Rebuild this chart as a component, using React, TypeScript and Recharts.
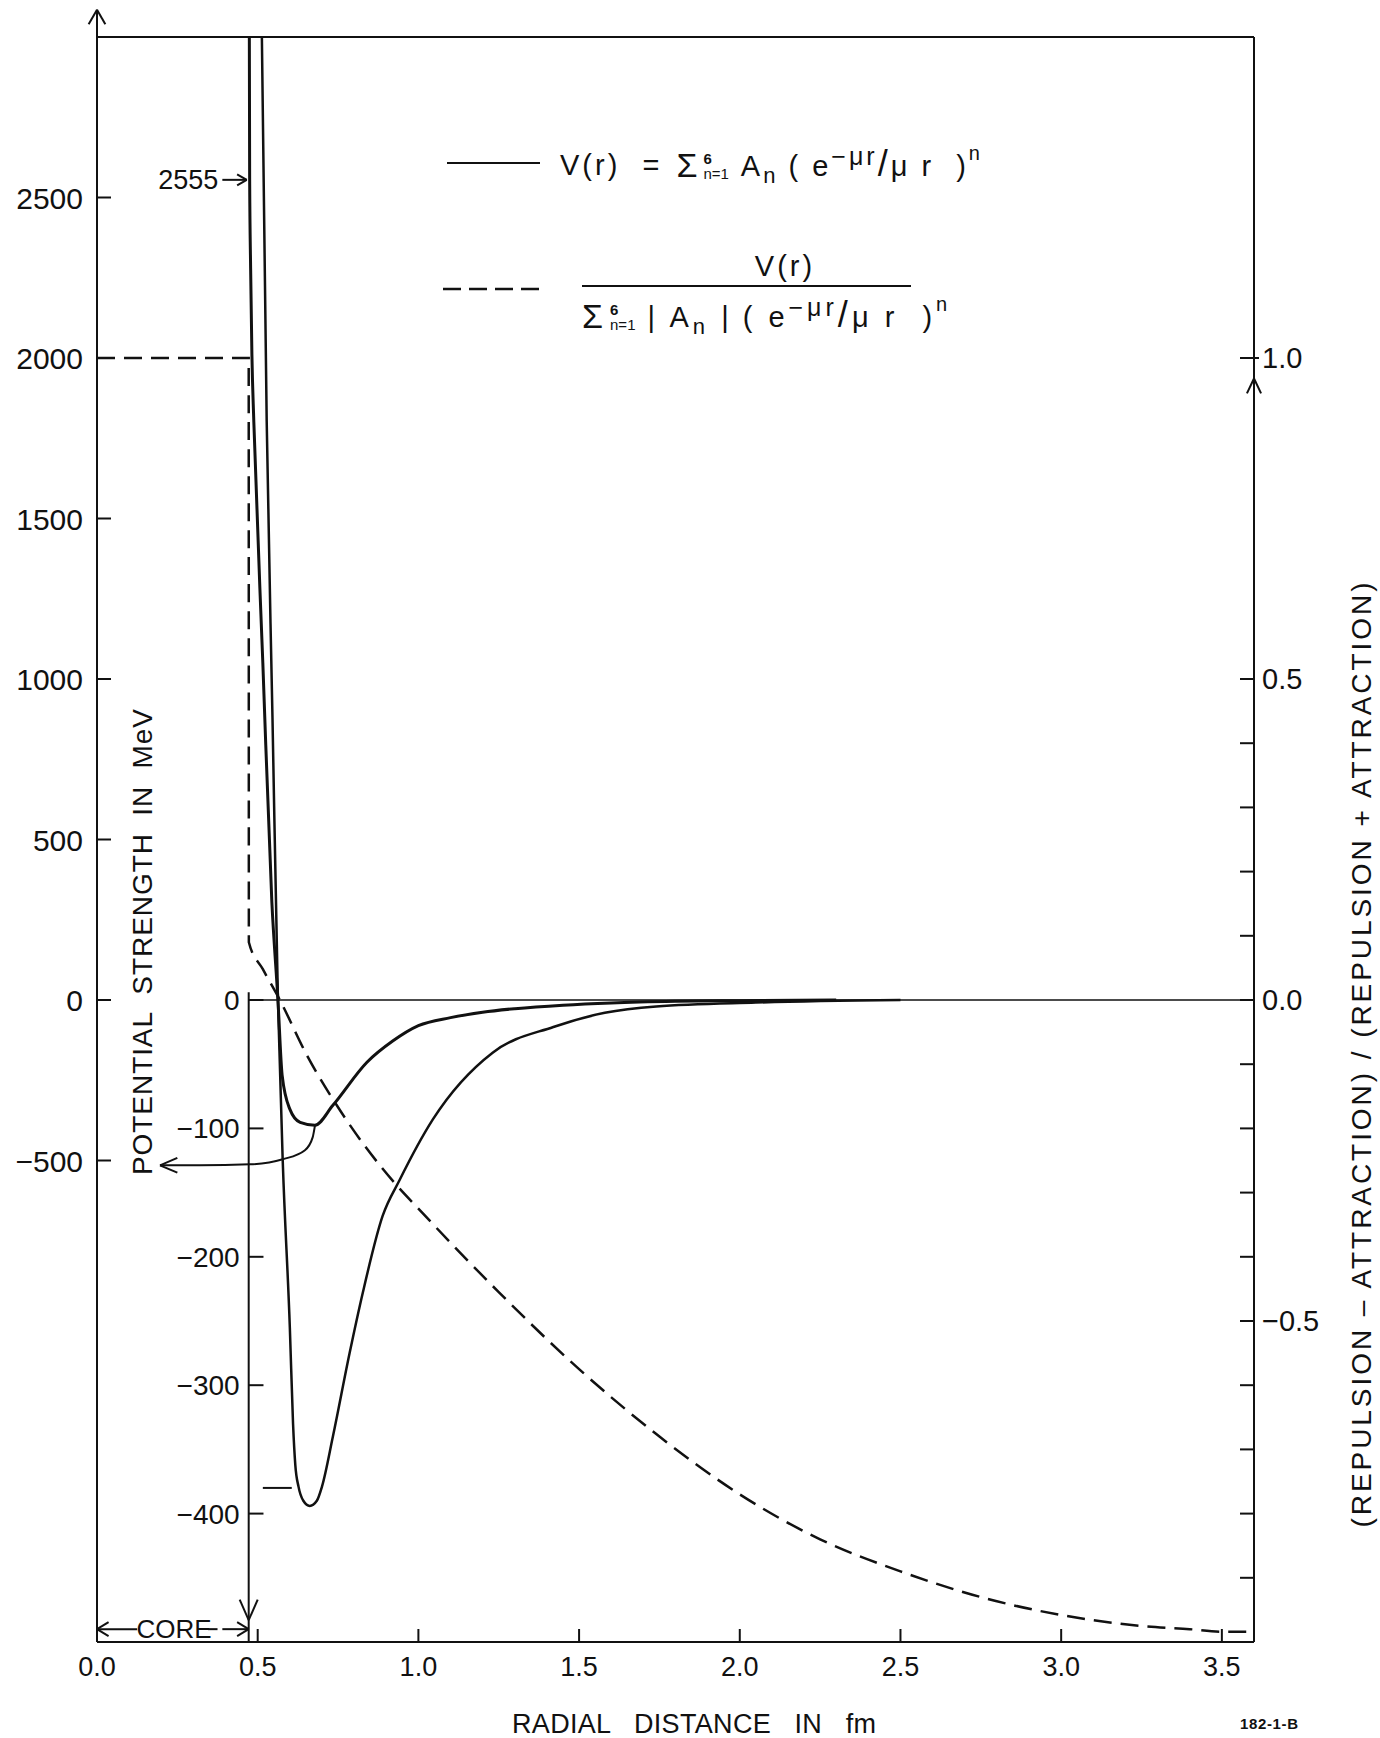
import React from 'react';
import { ComposedChart, Line, XAxis, YAxis, ReferenceLine } from 'recharts';

const FONT = '"Liberation Sans", Arial, sans-serif';
const INK = '#111';

// V(r) in MeV against the outer left scale (r in fm)
const outerR = [0.474, 0.475, 0.478, 0.482, 0.488, 0.516, 0.544, 0.563, 0.576, 0.6, 0.632, 0.678, 0.734, 0.84, 0.92, 1.0, 1.1, 1.2, 1.3, 1.45, 1.6, 1.8, 2.0, 2.3];
const outerV = [3000, 2555, 2280, 2010, 1800, 1050, 306, 0, -234, -340, -381, -390, -328, -194, -128, -80, -55, -38, -27, -16, -9, -4, -2, 0];

// same potential against the magnified inner scale (0 .. -400)
const innerR = [0.513, 0.528, 0.546, 0.563, 0.578, 0.6, 0.61, 0.617, 0.627, 0.642, 0.662, 0.684, 0.7, 0.734, 0.786, 0.827, 0.889, 0.942, 1.045, 1.231, 1.42, 1.58, 1.74, 2.05, 2.5];
const innerV = [750, 451, 220, 0, -126, -255, -330, -362, -379, -390, -394, -390, -379, -340, -275, -228, -168, -140, -93, -41, -21, -10, -5, -2, 0];

// (repulsion - attraction) / (repulsion + attraction), right scale
const ratioR = [0, 0.472, 0.4725, 0.516, 0.569, 0.653, 0.746, 0.933, 1.0, 1.25, 1.5, 1.75, 2.0, 2.25, 2.5, 2.75, 3.0, 3.25, 3.4, 3.5, 3.6];
const ratioV = [1.0, 1.0, 0.09, 0.048, 0, -0.086, -0.164, -0.289, -0.325, -0.455, -0.575, -0.68, -0.77, -0.84, -0.89, -0.93, -0.958, -0.975, -0.98, -0.984, -0.984];

// leader from the shallow minimum to the -500 label
const leaderR = [0.196, 0.32, 0.476, 0.578, 0.647, 0.671, 0.678];
const leaderV = [-515, -515, -512, -496, -468, -428, -392];

const xTicks = [0, 0.5, 1, 1.5, 2, 2.5, 3, 3.5];
const leftTicks = [-500, 0, 500, 1000, 1500, 2000, 2500];
const rightTicks = [1, 0.5, 0.4, 0.3, 0.2, 0.1, 0, -0.1, -0.2, -0.3, -0.4, -0.5, -0.6, -0.7, -0.8, -0.9];
const rightLabels = [1, 0.5, 0, -0.5];
const innerTicks = [0, -100, -200, -300, -400];
const CORE_R = 0.472;

const pts = (rs: number[], vs: number[]) => rs.map((r, i) => ({ r, v: vs[i] }));

const fmt = (v: number, d: number) => (v < 0 ? '−' : '') + Math.abs(v).toFixed(d);

function LeftTick(props: any) {
  const { x, y, payload } = props;
  return (
    <g>
      <line x1={x} x2={x + 14} y1={y} y2={y} stroke={INK} strokeWidth={2} />
      <text x={x - 14} y={y} dy={11} textAnchor="end" fontSize={30} fontFamily={FONT} fill={INK}>
        {fmt(payload.value, 0)}
      </text>
    </g>
  );
}

function RightTick(props: any) {
  const { x, y, payload } = props;
  const v = payload.value;
  return (
    <g>
      <line x1={x - 14} x2={v === 1 ? x + 5 : x} y1={y} y2={y} stroke={INK} strokeWidth={2} />
      {rightLabels.includes(v) && (
        <text x={x + 8} y={y} dy={10} fontSize={29} fontFamily={FONT} fill={INK}>
          {fmt(v, 1)}
        </text>
      )}
    </g>
  );
}

function BottomTick(props: any) {
  const { x, y, payload } = props;
  return (
    <g>
      <line x1={x} x2={x} y1={y} y2={y - 13} stroke={INK} strokeWidth={2} />
      <text x={x} y={y + 34} textAnchor="middle" fontSize={27} fontFamily={FONT} fill={INK}>
        {payload.value.toFixed(1)}
      </text>
    </g>
  );
}

function seg(key: string, axis: string, x1: number, y1: number, x2: number, y2: number, extra: any = {}) {
  return (
    <ReferenceLine
      key={key}
      yAxisId={axis}
      segment={[{ x: x1, y: y1 }, { x: x2, y: y2 }]}
      stroke={INK}
      strokeWidth={2}
      ifOverflow="visible"
      {...extra}
    />
  );
}

const lbl = (value: string, position: string, offset = 9, size = 28) => ({
  value,
  position,
  offset,
  fontSize: size,
  fill: INK,
  fontFamily: FONT,
});

function SumTerm({ abs, gap = 2 }: { abs?: boolean; gap?: number }) {
  return (
    <span style={{ display: 'inline-flex', alignItems: 'center', whiteSpace: 'pre', letterSpacing: gap }}>
      <span style={{ fontSize: 34 }}>Σ</span>
      <span
        style={{
          display: 'inline-flex',
          flexDirection: 'column',
          fontSize: 15,
          lineHeight: '15px',
          marginLeft: 3,
          marginRight: 12,
          letterSpacing: 0,
        }}
      >
        <span style={{ fontWeight: 700 }}>6</span>
        <span>n=1</span>
      </span>
      <span>
        {abs ? '| ' : ''}A<sub style={{ fontSize: 22, verticalAlign: -7 }}>n</sub>
        {abs ? ' |' : ''}
        <span style={{ marginLeft: 10 }}>( e</span>
        <sup style={{ fontSize: 25, verticalAlign: 11 }}>−μr</sup>
        <span style={{ fontSize: 36 }}>/</span>
        <span>μ r  )</span>
        <sup style={{ fontSize: 20, verticalAlign: 16 }}>n</sup>
      </span>
    </span>
  );
}

export default function App() {
  const segs = [
    // frame top and axis arrows
    seg('top', 'left', 0, 3000, 3.6, 3000),
    seg('la', 'left', 0, 3000, 0, 3085),
    seg('la1', 'left', 0, 3085, -0.026, 3040),
    seg('la2', 'left', 0, 3085, 0.026, 3040),
    seg('ra1', 'right', 3.6, 0.968, 3.578, 0.945),
    seg('ra2', 'right', 3.6, 0.968, 3.622, 0.945),
    // zero line
    seg('zero', 'left', CORE_R, 0, 3.6, 0, { strokeWidth: 1.5 }),
    // 2555 pointer
    seg('p2555', 'left', 0.39, 2555, 0.466, 2555, { label: lbl('2555', 'left', 4, 27) }),
    seg('p2555a', 'left', 0.466, 2555, 0.436, 2572),
    seg('p2555b', 'left', 0.466, 2555, 0.436, 2538),
    // leader arrow head
    seg('lda', 'left', 0.196, -515, 0.25, -492),
    seg('ldb', 'left', 0.196, -515, 0.25, -538),
    // inner (core) axis
    seg('core', 'inner', CORE_R, 6, CORE_R, -500),
    seg('corea', 'inner', CORE_R, -483, CORE_R - 0.028, -467),
    seg('coreb', 'inner', CORE_R, -483, CORE_R + 0.028, -467),
    ...innerTicks.map((v) =>
      seg('it' + v, 'inner', CORE_R, v, CORE_R + 0.046, v, { label: lbl(fmt(v, 0), 'left', 9) })
    ),
    seg('mark380', 'inner', 0.516, -380, 0.606, -380),
    // CORE dimension
    seg('cd1', 'inner', 0, -490, 0.125, -490),
    seg('cd2', 'inner', 0.345, -490, 0.375, -490),
    seg('cd3', 'inner', 0.39, -490, CORE_R, -490),
    seg('cdl1', 'inner', 0, -490, 0.036, -484.5),
    seg('cdl2', 'inner', 0, -490, 0.036, -495.5),
    seg('cdr1', 'inner', CORE_R, -490, CORE_R - 0.036, -484.5),
    seg('cdr2', 'inner', CORE_R, -490, CORE_R - 0.036, -495.5),
    seg('cdt', 'inner', 0.14, -490, 0.34, -490, { stroke: 'none', label: lbl('CORE', 'center', 0, 26) }),
  ];

  return (
    <div
      style={{
        position: 'absolute',
        left: 0,
        top: 0,
        width: 1380,
        height: 1738,
        background: '#fff',
        fontFamily: FONT,
        color: INK,
      }}
    >
      <ComposedChart width={1380} height={1738} margin={{ top: 37, right: 46, bottom: 46, left: 7 }}>
        <XAxis
          type="number"
          dataKey="r"
          domain={[0, 3.6]}
          ticks={xTicks}
          interval={0}
          allowDataOverflow
          height={50}
          tickSize={0}
          tickMargin={0}
          tickLine={false}
          axisLine={{ stroke: INK, strokeWidth: 2 }}
          tick={<BottomTick />}
        />
        <YAxis
          yAxisId="left"
          type="number"
          domain={[-2000, 3000]}
          ticks={leftTicks}
          interval={0}
          allowDataOverflow
          width={90}
          tickSize={0}
          tickMargin={0}
          tickLine={false}
          axisLine={{ stroke: INK, strokeWidth: 2 }}
          tick={<LeftTick />}
        />
        <YAxis
          yAxisId="right"
          orientation="right"
          type="number"
          domain={[-1, 1.5]}
          ticks={rightTicks}
          interval={0}
          allowDataOverflow
          width={80}
          tickSize={0}
          tickMargin={0}
          tickLine={false}
          axisLine={{ stroke: INK, strokeWidth: 2 }}
          tick={<RightTick />}
        />
        <YAxis yAxisId="inner" type="number" domain={[-500, 750]} allowDataOverflow hide width={0} />

        {segs}

        <Line
          data={pts(outerR, outerV)}
          yAxisId="left"
          dataKey="v"
          type="monotone"
          stroke={INK}
          strokeWidth={3}
          dot={false}
          isAnimationActive={false}
        />
        <Line
          data={pts(innerR, innerV)}
          yAxisId="inner"
          dataKey="v"
          type="monotone"
          stroke={INK}
          strokeWidth={2.5}
          dot={false}
          isAnimationActive={false}
        />
        <Line
          data={pts(ratioR, ratioV)}
          yAxisId="right"
          dataKey="v"
          type="monotone"
          stroke={INK}
          strokeWidth={2.5}
          strokeDasharray="18 9"
          dot={false}
          isAnimationActive={false}
        />
        <Line
          data={pts(leaderR, leaderV)}
          yAxisId="left"
          dataKey="v"
          type="monotone"
          stroke={INK}
          strokeWidth={2}
          dot={false}
          isAnimationActive={false}
        />
      </ComposedChart>

      <svg
        width={1380}
        height={1738}
        style={{ position: 'absolute', left: 0, top: 0, pointerEvents: 'none' }}
        fontFamily={FONT}
        fill={INK}
      >
        <text
          transform="translate(142,942) rotate(-90)"
          dy="0.35em"
          textAnchor="middle"
          fontSize={28}
          textLength={466}
          lengthAdjust="spacing"
          style={{ whiteSpace: 'pre' }}
        >
          POTENTIAL  STRENGTH  IN  MeV
        </text>
        <text
          transform="translate(1361,1055) rotate(-90)"
          dy="0.35em"
          textAnchor="middle"
          fontSize={28}
          textLength={945}
          lengthAdjust="spacing"
          style={{ whiteSpace: 'pre' }}
        >
          (REPULSION – ATTRACTION) / (REPULSION + ATTRACTION)
        </text>
        <text
          x={694}
          y={1733}
          textAnchor="middle"
          fontSize={27}
          textLength={364}
          lengthAdjust="spacing"
          style={{ whiteSpace: 'pre' }}
        >
          RADIAL   DISTANCE   IN   fm
        </text>
        <text x={1269} y={1729} textAnchor="middle" fontSize={15} fontWeight={700} textLength={58} lengthAdjust="spacing">
          182-1-B
        </text>

        {/* legend samples */}
        <line x1={447} x2={540} y1={163} y2={163} stroke={INK} strokeWidth={2} />
        <line x1={443} x2={540} y1={289} y2={289} stroke={INK} strokeWidth={2.5} strokeDasharray="18 8" />
        <text x={785} y={276} textAnchor="middle" fontSize={29} letterSpacing={3}>
          V(r)
        </text>
        <line x1={582} x2={911} y1={286} y2={286} stroke={INK} strokeWidth={2} />
      </svg>

      <div
        style={{
          position: 'absolute',
          left: 560,
          top: 142,
          fontSize: 29,
          whiteSpace: 'nowrap',
          display: 'flex',
          alignItems: 'center',
        }}
      >
        <span style={{ whiteSpace: 'pre', marginRight: 14, letterSpacing: 3 }}>V(r)  =</span>
        <SumTerm gap={3} />
      </div>
      <div style={{ position: 'absolute', left: 582, top: 293, fontSize: 29, whiteSpace: 'nowrap' }}>
        <SumTerm abs gap={4} />
      </div>
    </div>
  );
}
